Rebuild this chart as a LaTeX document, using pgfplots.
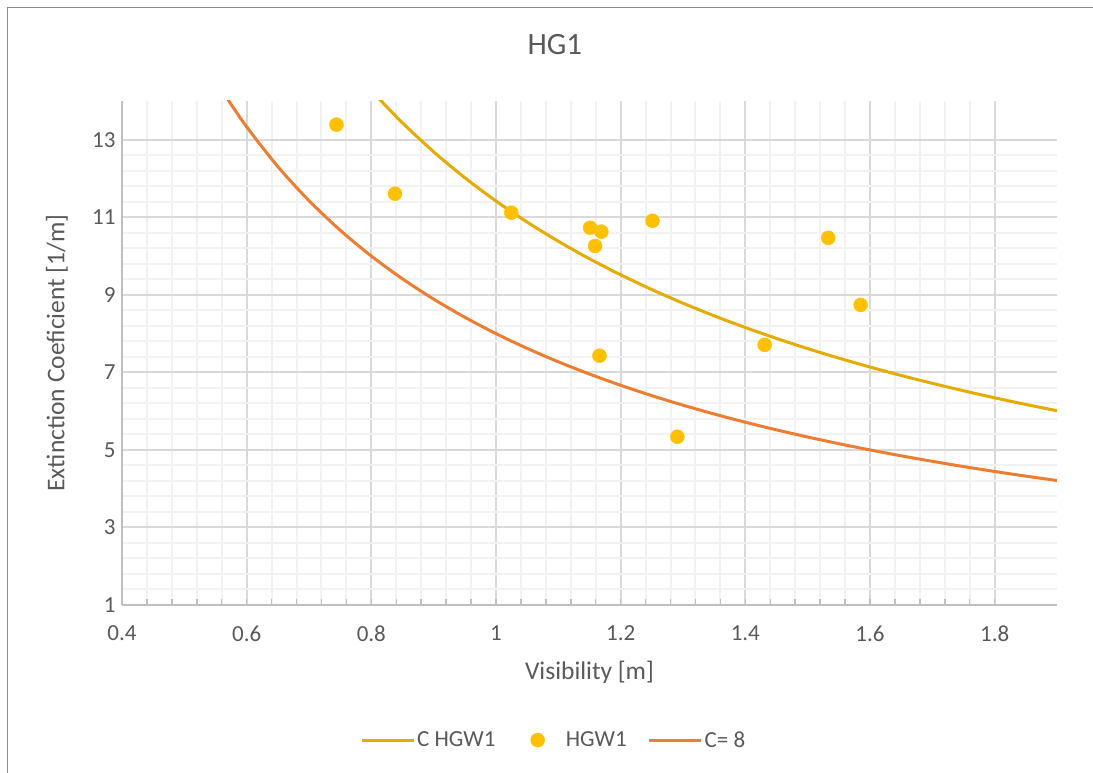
\documentclass[border=0pt]{standalone}
\usepackage{fontspec}
\setmainfont{Carlito}
\usepackage{pgfplots}
\pgfplotsset{compat=1.18}
\definecolor{txt}{HTML}{595959}
\definecolor{goldline}{HTML}{E5AB00}
\definecolor{golddot}{HTML}{FFC000}
\definecolor{orangeline}{HTML}{ED7D31}
\definecolor{majgrid}{HTML}{D9D9D9}
\definecolor{mingrid}{HTML}{F2F2F2}
\definecolor{axline}{HTML}{BFBFBF}
\definecolor{frame}{HTML}{8C8C8C}
\pgfplotsset{
  linelegend/.style={legend image code/.code={\draw[##1] (0pt,0pt) -- (52pt,0pt);}},
  marklegend/.style={legend image code/.code={\path (0pt,0pt) (52pt,0pt);\draw[mark repeat=2,mark phase=2,##1] plot coordinates {(0pt,0pt)(26pt,0pt)(52pt,0pt)};}},
}
\begin{document}
\begin{tikzpicture}[x=1pt,y=1pt]
\useasboundingbox (0,0) rectangle (1093,772);
\draw[frame,line width=1.2pt] (7.5,764.5) rectangle (1110,-20);
\begin{axis}[
  at={(122pt,167pt)}, anchor=south west,
  scale only axis, width=935pt, height=504pt,
  xmin=0.4, xmax=1.9, ymin=1, ymax=14,
  xtick={0.4,0.6,0.8,1,1.2,1.4,1.6,1.8},
  ytick={1,3,5,7,9,11,13},
  minor x tick num=4, minor y tick num=4,
  grid=both,
  major grid style={majgrid,line width=2pt},
  minor grid style={mingrid,line width=2pt},
  axis x line*=bottom, axis y line*=left,
  axis line style={axline,line width=2pt},
  xtick align=inside,
  major tick length=6pt, minor tick length=6pt,
  x tick style={axline,line width=1.5pt},
  y tick style={draw=none},
  /pgf/number format/assume math mode=true,
  tick label style={font=\fontsize{23}{27}\selectfont, text=txt},
  xticklabel style={yshift=-17pt},
  yticklabel style={xshift=-3pt},
  xlabel={Visibility [m]},
  ylabel={Extinction Coeficient [1/m]},
  label style={font=\fontsize{25.5}{30}\selectfont, text=txt},
  x label style={at={(axis description cs:0.5,-0.133)},anchor=center},
  y label style={at={(axis description cs:-0.0695,0.5)},anchor=center},
  title={HG1},
  title style={at={(axis description cs:0.463,1.101)},anchor=center,font=\fontsize{31}{36}\selectfont,text=txt},
  legend columns=3,
  legend style={at={(axis description cs:0.2545,-0.268)},anchor=west,draw=none,fill=none,
    font=\fontsize{23}{27}\selectfont, text=txt, inner sep=0pt},
  legend cell align=left,
]
\addplot[goldline,line width=3pt,smooth,linelegend]
  coordinates {(0.81,14.099)(0.85,13.435)(0.90,12.689)(0.95,12.021)(1.00,11.42)
  (1.05,10.876)(1.10,10.382)(1.15,9.930)(1.20,9.517)(1.25,9.136)(1.30,8.785)
  (1.35,8.459)(1.40,8.157)(1.45,7.876)(1.50,7.613)(1.55,7.368)(1.60,7.138)
  (1.65,6.921)(1.70,6.718)(1.75,6.526)(1.80,6.344)(1.85,6.173)(1.90,6.011)};
\addlegendentry{C HGW1\rule{14pt}{0pt}}
\addplot[only marks,mark=*,mark size=7pt,golddot,mark options={draw=golddot,fill=golddot},marklegend]
  coordinates {(0.744,13.39)(0.838,11.61)(1.0245,11.12)(1.151,10.73)(1.169,10.63)
  (1.159,10.26)(1.251,10.91)(1.533,10.47)(1.585,8.74)(1.431,7.71)(1.166,7.43)(1.291,5.34)};
\addlegendentry{HGW1\rule{19pt}{0pt}}
\addplot[orangeline,line width=3pt,smooth,linelegend]
  coordinates {(0.57,14.035)(0.60,13.333)(0.65,12.308)(0.70,11.429)(0.75,10.667)
  (0.80,10.0)(0.85,9.412)(0.90,8.889)(0.95,8.421)(1.00,8.0)(1.05,7.619)(1.10,7.273)
  (1.15,6.957)(1.20,6.667)(1.25,6.4)(1.30,6.154)(1.35,5.926)(1.40,5.714)(1.45,5.517)
  (1.50,5.333)(1.55,5.161)(1.60,5.0)(1.65,4.848)(1.70,4.706)(1.75,4.571)(1.80,4.444)
  (1.85,4.324)(1.90,4.211)};
\addlegendentry{C= 8}
\end{axis}
\end{tikzpicture}
\end{document}
